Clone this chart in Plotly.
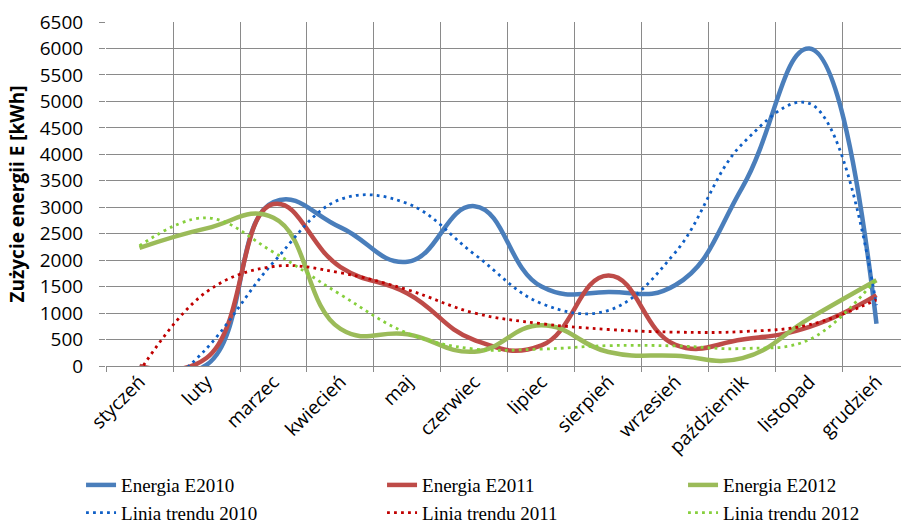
import plotly.graph_objects as go

# Monthly energy use (kWh) for three years, plus the fitted trend curves
months = ["styczeń", "luty", "marzec", "kwiecień", "maj", "czerwiec",
          "lipiec", "sierpień", "wrzesień", "październik", "listopad", "grudzień"]

e2010 = [0, 20, 3100, 2620, 1970, 3020, 1500, 1400, 1530, 3380, 6000, 800]
e2011 = [0, 150, 3060, 1870, 1370, 490, 390, 1710, 400, 500, 740, 1340]
e2012 = [2230, 2600, 2800, 700, 600, 270, 770, 265, 195, 150, 900, 1620]

trend2010 = [-800, 330, 1960, 3150, 3070, 2110, 1180, 1050, 2150, 4200, 4960, 1150]
trend2011 = [-100, 1400, 1880, 1760, 1440, 1000, 800, 690, 640, 650, 780, 1250]
trend2012 = [2270, 2800, 2150, 1350, 620, 320, 320, 385, 380, 330, 500, 1650]

y_ticks = list(range(0, 6501, 500))

series = [
    ("Energia E2010", e2010, "#4A7EBB", "solid", 4.5, 1.3),
    ("Energia E2011", e2011, "#BE4B48", "solid", 4.5, 1.3),
    ("Energia E2012", e2012, "#9BBB59", "solid", 4.5, 1.3),
    ("Linia trendu 2010", trend2010, "#0F5FC6", "2.8px,4.2px", 2.8, 1.1),
    ("Linia trendu 2011", trend2011, "#C00000", "2.8px,4.2px", 2.8, 1.1),
    ("Linia trendu 2012", trend2012, "#86CF3C", "2.8px,4.2px", 2.8, 1.1),
]

fig = go.Figure()
for name, values, color, dash, width, smooth in series:
    fig.add_trace(go.Scatter(
        x=months, y=values, name=name, mode="lines",
        line=dict(color=color, width=width, dash=dash, shape="spline", smoothing=smooth),
        hoverinfo="x+y+name",
    ))

grid = "#8a8a8a"
sans = "Open Sans, Liberation Sans, sans-serif"

fig.update_layout(
    width=901, height=524,
    margin=dict(l=106, r=0, t=22, b=158, autoexpand=False),
    paper_bgcolor="white", plot_bgcolor="white",
    font=dict(family=sans, size=19, color="black"),
    showlegend=True,
    legend=dict(
        orientation="h", x=-0.0314, xanchor="left", y=-0.2909, yanchor="top",
        entrywidth=256, entrywidthmode="pixels",
        font=dict(family="Liberation Serif, Times New Roman, serif", size=19, color="black"),
        bgcolor="rgba(0,0,0,0)", traceorder="normal",
    ),
)

fig.update_xaxes(
    type="category", categoryorder="array", categoryarray=months,
    range=[-0.5, 11.366],
    tickson="boundaries", ticks="outside", ticklen=5, tickcolor=grid, tickwidth=1.3,
    showgrid=True, gridcolor=grid, gridwidth=1.3,
    tickangle=-45, tickfont=dict(family=sans, size=19, color="black"),
    showline=False, zeroline=False,
)

fig.update_yaxes(
    range=[0, 6500], tickvals=y_ticks, ticktext=[str(v) for v in y_ticks],
    ticks="outside", ticklen=6, tickcolor=grid, tickwidth=1.3,
    ticklabelstandoff=12,
    showgrid=True, gridcolor=grid, gridwidth=1.3,
    zeroline=True, zerolinecolor=grid, zerolinewidth=1.3,
    tickfont=dict(family=sans, size=19, color="black"),
    title=dict(text="<b>Zużycie energii E [kWh]</b>",
               font=dict(family=sans, size=19, color="black"), standoff=10),
)

fig.write_html("out.html")
